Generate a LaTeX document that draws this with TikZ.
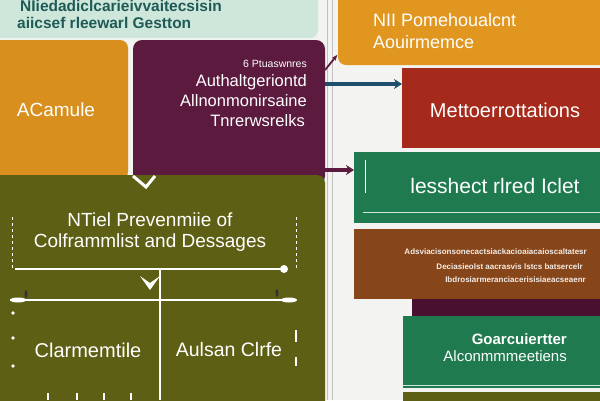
\documentclass[tikz,border=0pt]{standalone}
\usepackage{fontspec}
\setmainfont{Liberation Sans}
\usetikzlibrary{arrows.meta,positioning}
\definecolor{paper}{HTML}{F3F3F1}
\definecolor{mint}{HTML}{CFE6DA}
\definecolor{tealtext}{HTML}{1E5B57}
\definecolor{amber}{HTML}{D88F1E}
\definecolor{amberlight}{HTML}{E0961F}
\definecolor{plum}{HTML}{5B1A3E}
\definecolor{olive}{HTML}{5D5F14}
\definecolor{brick}{HTML}{A52A1B}
\definecolor{forest}{HTML}{1F7B4F}
\definecolor{rust}{HTML}{87461A}
\definecolor{darkplum}{HTML}{4A1030}
\definecolor{linkteal}{HTML}{1D4E6B}
\definecolor{rulegray}{HTML}{C2C2C2}

\begin{document}
\begin{tikzpicture}[x=1pt,y=-1pt,
    panel/.style={anchor=north west,inner sep=0pt,outer sep=0pt},
    wlbl/.style={text=white,inner sep=0pt,font=\fontsize{#1}{#1}\selectfont},
    wlbl/.default=17,
    deco/.style={white,line width=1.4pt},
    link/.style={line width=3.6pt,-{Stealth[length=8pt,width=10pt]}}]
\begin{scope}
\clip (0,0) rectangle (600,400); % page is 600 x 400
\fill[paper] (0,0) rectangle (600,400);

% left column
\node[panel,fill=mint,rounded corners=8pt,minimum width=328pt,minimum height=48pt] (heading) at (-10,-10) {};
\node[panel,fill=amber,rounded corners=8pt,minimum width=138pt,minimum height=140pt] (acamule) at (-10,40) {};
\node[panel,fill=plum,rounded corners=9pt,minimum width=192pt,minimum height=145pt] (tnrer) at (133,40) {};
\node[panel,fill=olive,rounded corners=8pt,minimum width=335pt,minimum height=235pt] (prevent) at (-10,175) {};

\foreach \x in {327,332}{
    \draw[rulegray,line width=0.8pt] (\x,0) -- (\x,400);
}

% right column
\node[panel,fill=amberlight,rounded corners=8pt,minimum width=272pt,minimum height=75pt] (pomeh) at (338,-10) {};
\node[panel,fill=brick,minimum width=208pt,minimum height=80pt] (mettoer) at (402,68) {};
\node[panel,fill=forest,minimum width=256pt,minimum height=71pt] (lesshect) at (354,152) {};
\node[panel,fill=rust,minimum width=256pt,minimum height=70pt] (rustnote) at (354,229) {};
\node[panel,fill=darkplum,minimum width=198pt,minimum height=17pt] (plumbar) at (412,299) {};
\node[panel,fill=forest,minimum width=207pt,minimum height=72pt] (goarc) at (403,316) {};
\node[panel,fill=olive,minimum width=207pt,minimum height=20pt] (olivebar) at (403,392) {};

% texts
\node[inner sep=0pt,anchor=west,text=tealtext,font=\bfseries\fontsize{15.5}{15.5}\selectfont] (headone) at (20,6) {NIiedadiclcarieivvaitecsisin};
\node[inner sep=0pt,anchor=west,text=tealtext,font=\bfseries\fontsize{15.5}{15.5}\selectfont] (headtwo) at (17,23) {aiicsef rleewarl Gestton};
\node[wlbl=19] (acamuletxt) at (56,110) {ACamule};
\node[wlbl=10.5,anchor=east] (tnrerzero) at (307,64) {6 Ptuaswnres};
\node[wlbl=16.5,anchor=east] (tnrerone) at (307,82) {Authaltgeriontd};
\node[wlbl=16.5,anchor=east] (tnrertwo) at (307,101) {Allnonmonirsaine};
\node[wlbl=16.5,anchor=east] (tnrerthree) at (305,121) {Tnrerwsrelks};
\node[wlbl=19,align=center,font=\fontsize{19}{21}\selectfont] (prevtitle) at (150,232) {NTiel Prevenmiie of\\Colframmlist and Dessages};
\node[wlbl=20] (clarm) at (88,350) {Clarmemtile};
\node[wlbl=19.5] (aulsan) at (229,350) {Aulsan Clrfe};
\node[wlbl=18,anchor=west] (pomehone) at (373,20) {NII Pomehoualcnt};
\node[wlbl=18,anchor=west] (pomehtwo) at (373,42) {Aouirmemce};
\node[wlbl=20] (mettoertxt) at (505,110) {Mettoerrottations};
\node[wlbl=21] (lesshecttxt) at (495,186) {lesshect rlred Iclet};
\node[wlbl=8,anchor=east,font=\bfseries\fontsize{8}{8}\selectfont,text=white!90!rust] (rustone) at (587,252) {Adsviacisonsonecactsiackacioaiacaioscaltatesr};
\node[wlbl=8,anchor=east,font=\bfseries\fontsize{8}{8}\selectfont,text=white!90!rust] (rusttwo) at (583,267) {Deciasieolst aacrasvis lstcs batsercelr};
\node[wlbl=8,anchor=east,font=\bfseries\fontsize{8}{8}\selectfont,text=white!90!rust] (rustthree) at (586,280) {Ibdrosiarmeranciacerisisiaeacseaenr};
\node[wlbl=15,anchor=east,font=\bfseries\fontsize{15}{15}\selectfont] (goarcone) at (567,339) {Goarcuiertter};
\node[wlbl=15,anchor=east] (goarctwo) at (567,356) {Alconmmmeetiens};

% connectors
\coordinate (tealstart) at ([yshift=-44pt]tnrer.north east);
\coordinate (plumstart) at ([yshift=-130pt]tnrer.north east);
\draw[link,linkteal] (tealstart) -- (tealstart -| mettoer.west);
\draw[link,plum] (plumstart) -- (plumstart -| lesshect.west);
\draw[plum,line width=1.8pt,-{Stealth[length=6pt]},shorten >=1pt] ([yshift=-30pt]tnrer.north east) -- ([yshift=11pt]pomeh.south west);

% marks on the olive panel
\draw[deco,line width=3pt] (133,176) -- (146,187) -- (155,176);
\fill[white] (140,276) -- (150,290) -- (160,276) -- (150,283) -- cycle;
\foreach \x in {12,296}{
    \draw[deco,dashed,line width=0.9pt] (\x,217) -- (\x,270);
}
\draw[deco] (15,269) -- (284,269);
\fill[white] (284,269) circle (4);
\draw[deco] (10,300) -- (295,300);
\fill[white] (18,300) ellipse (8 and 2.5);
\fill[white] (289,300) ellipse (8 and 2.5);
\fill[black!80] (26,294) ellipse (1.5 and 4);
\fill[black!80] (277,293) ellipse (1.5 and 4);
\draw[deco] (160,270) -- (160,400);
\foreach \y in {313,338,366}{
    \fill[white] (13,\y) circle (1.8);
}
\draw[deco,line width=1.2pt] (296,330) -- (296,342);
\draw[deco,line width=1.2pt] (296,357) -- (296,366);
\foreach \x in {48,77,104,131}{
    \draw[deco,line width=1.6pt] (\x,393) -- (\x,400);
}

% rules on the green panels
\draw[mint,line width=1pt] (363,212) -- (600,212);
\draw[white,line width=1pt] (365,160) -- (365,193);
\draw[mint,line width=0.8pt] (403,385) -- (600,385);
\end{scope}
\end{tikzpicture}
\end{document}
